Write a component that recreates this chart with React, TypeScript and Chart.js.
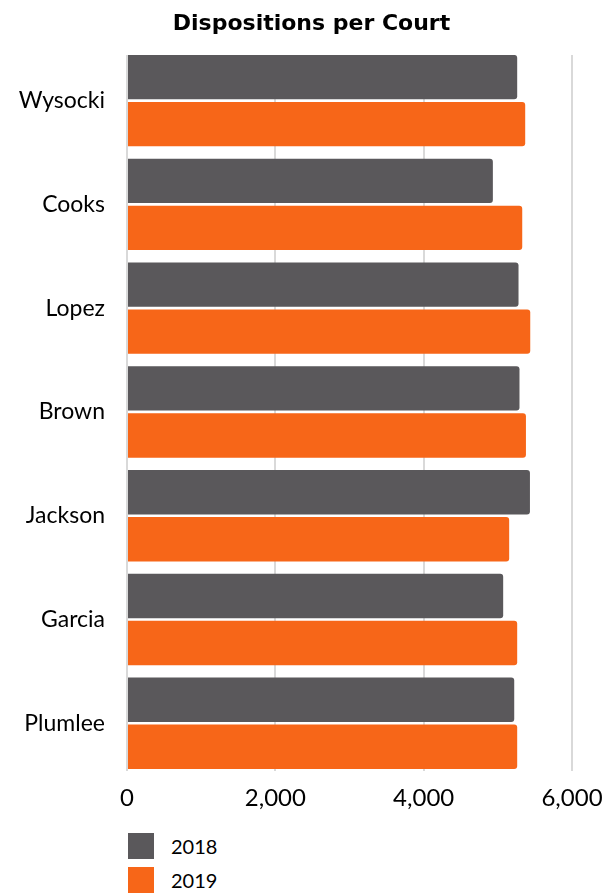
import React, { useEffect, useRef } from "react";
import { Chart, registerables } from "chart.js";

Chart.register(...registerables);

const courts = ["Wysocki", "Cooks", "Lopez", "Brown", "Jackson", "Garcia", "Plumlee"];
const values2018 = [5261, 4933, 5279, 5292, 5433, 5072, 5221];
const values2019 = [5369, 5329, 5437, 5379, 5153, 5261, 5261];
const seriesLabels = ["2018", "2019"];
const seriesColors = ["#5a585b", "#f76618"];
const xTicks = [0, 2000, 4000, 6000];
const titleText = "Dispositions per Court";

const FONT = "Lato, 'Open Sans', sans-serif";
const TITLE_FONT = "'DejaVu Sans', sans-serif";

export default function App() {
  const canvasRef = useRef<HTMLCanvasElement | null>(null);

  useEffect(() => {
    const canvas = canvasRef.current;
    if (!canvas) return;
    const seriesValues = [values2018, values2019];
    const chart = new Chart(canvas, {
      type: "bar",
      data: {
        datasets: seriesLabels.map((label, s) => ({
          label,
          data: seriesValues[s].map((v, i) => ({ x: v, y: i })),
          backgroundColor: seriesColors[s],
          borderRadius: 3,
          borderSkipped: "start",
          categoryPercentage: 0.906,
          barPercentage: 0.943,
        })),
      },
      options: {
        indexAxis: "y",
        animation: false,
        responsive: true,
        maintainAspectRatio: false,
        layout: { padding: { left: 8, right: 0, top: 0, bottom: 0 } },
        plugins: {
          legend: { display: false },
          tooltip: { enabled: false },
          title: {
            display: true,
            text: titleText,
            color: "#000",
            font: { family: TITLE_FONT, size: 22, weight: "bold" },
            padding: { top: 3, bottom: 17.6 },
          },
        },
        scales: {
          y: {
            type: "linear",
            reverse: true,
            offset: false,
            min: -0.44,
            max: 6.46,
            afterBuildTicks: (axis: any) => {
              axis.ticks = courts.map((_, i) => ({ value: i }));
            },
            afterFit: (axis: any) => {
              axis.width = 111;
            },
            ticks: {
              callback: (v: any) => courts[v] ?? "",
              color: "#000",
              font: { family: FONT, size: 23 },
              padding: 22,
            },
            grid: { display: false, drawTicks: false, offset: false },
            border: { display: false },
          },
          x: {
            type: "linear",
            min: 0,
            max: 6000,
            afterBuildTicks: (axis: any) => {
              axis.ticks = xTicks.map((v) => ({ value: v }));
            },
            afterFit: (axis: any) => {
              axis.height = 43;
              axis.paddingRight = 35;
            },
            ticks: {
              callback: (v: any) => Number(v).toLocaleString("en-US"),
              color: "#000",
              font: { family: FONT, size: 24 },
              padding: 13,
              maxRotation: 0,
            },
            grid: { color: "#d9d9d9", lineWidth: 2, drawTicks: false },
            border: { display: false },
          },
        },
      },
    });
    return () => chart.destroy();
  }, []);

  return (
    <div style={{ fontFamily: FONT }}>
      <div style={{ position: "relative", width: 599, height: 806 }}>
        <canvas ref={canvasRef} />
      </div>
      <div style={{ marginTop: 19, marginLeft: 120 }}>
        {seriesLabels.map((label, s) => (
          <div
            key={label}
            style={{ display: "flex", alignItems: "center", height: 26, marginBottom: 8 }}
          >
            <span
              style={{
                display: "inline-block",
                width: 26,
                height: 26,
                background: seriesColors[s],
              }}
            />
            <span style={{ marginLeft: 17, fontSize: 20, color: "#000" }}>{label}</span>
          </div>
        ))}
      </div>
    </div>
  );
}
